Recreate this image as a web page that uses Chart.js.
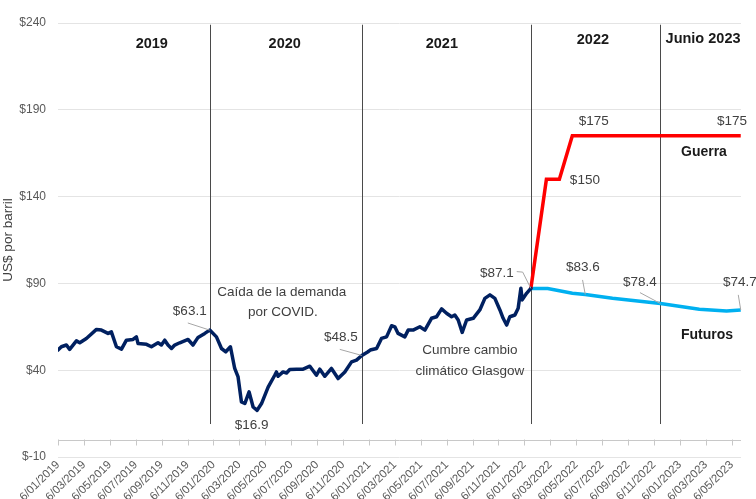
<!DOCTYPE html>
<html>
<head>
<meta charset="utf-8">
<script src="https://cdn.jsdelivr.net/npm/chart.js@4.4.0/dist/chart.umd.min.js"></script>
<style>
  html, body { margin: 0; padding: 0; background: #ffffff; }
  #wrap { width: 756px; height: 499px; position: relative; }
</style>
</head>
<body>
<div id="wrap"><canvas id="oilChart"></canvas></div>
<script>
// x values are months counted from 6/01/2019
const tickMonths = [0, 2, 4, 6, 8, 10, 12, 14, 16, 18, 20, 22, 24, 26, 28, 30, 32, 34, 36, 38, 40, 42, 44, 46, 48, 50, 52];
const tickLabels = [
    '6/01/2019', '6/03/2019', '6/05/2019', '6/07/2019', '6/09/2019', '6/11/2019',
    '6/01/2020', '6/03/2020', '6/05/2020', '6/07/2020', '6/09/2020', '6/11/2020',
    '6/01/2021', '6/03/2021', '6/05/2021', '6/07/2021', '6/09/2021', '6/11/2021',
    '6/01/2022', '6/03/2022', '6/05/2022', '6/07/2022', '6/09/2022', '6/11/2022',
    '6/01/2023', '6/03/2023', '6/05/2023'
];

// historical price (US$ per barrel)
const histMonths = [
    0, 0.26, 0.65, 0.9, 1.42, 1.68, 2.19, 2.97, 3.35, 3.86, 4.12, 4.51, 4.9, 5.28, 5.79, 6.05,
    6.18, 6.83, 7.21, 7.72, 7.98, 8.24, 8.49, 8.76, 9.01, 9.4, 10.04, 10.42, 10.81, 11.33, 11.71,
    12.23, 12.62, 12.95, 13.31, 13.64, 13.9, 14.16, 14.42, 14.75, 15.06, 15.37, 15.71, 16.22,
    16.73, 16.86, 16.99, 17.37, 17.64, 17.89, 18.41, 18.92, 19.44, 19.95, 20.21, 20.59, 21.11,
    21.62, 22.14, 22.66, 23.04, 23.45, 23.9, 24.1, 24.59, 24.97, 25.36, 25.75, 26.0, 26.25,
    26.77, 27.03, 27.41, 27.93, 28.32, 28.83, 29.22, 29.61, 29.99, 30.38, 30.63, 30.89, 31.2,
    31.54, 32.05, 32.56, 32.95, 33.34, 33.72, 34.11, 34.36, 34.63, 34.88, 35.27, 35.52, 35.73,
    35.83, 36.17, 36.5
];
const histPrices = [
    51.6, 53.5, 54.5, 52.0, 56.9, 55.8, 58.3, 63.5, 63.1, 61.2, 62.1, 53.5, 52.1, 57.3, 57.7, 59.2,
    55.4, 54.9, 53.5, 55.8, 54.5, 57.3, 54.5, 52.5, 54.5, 55.8, 57.7, 54.5, 58.9, 61.2, 63.1,
    59.2, 52.5, 50.6, 53.5, 41.0, 36.1, 21.7, 20.8, 27.5, 18.8, 16.9, 20.8, 30.3,
    37.1, 39.0, 36.5, 39.0, 38.4, 40.4, 40.6, 40.6, 42.3, 37.1, 40.6, 36.5, 41.0,
    35.2, 39.0, 44.8, 45.8, 48.5, 50.5, 51.6, 52.5, 58.3, 59.2, 65.6, 65.0, 61.2,
    59.2, 63.1, 63.1, 65.0, 63.1, 69.9, 70.8, 75.3, 72.8, 70.8, 71.8, 68.9, 61.8,
    68.9, 69.9, 74.7, 81.4, 83.4, 81.4, 74.7, 69.9, 66.0, 70.8, 71.8, 75.7, 87.2,
    80.5, 84.3, 87.1
];

// futures scenario
const futMonths = [36.5, 37.8, 38.7, 39.7, 40.7, 42.8, 46.5, 49.5, 51.6, 52.7];
const futPrices = [87.1, 87.0, 85.8, 84.3, 83.6, 81.4, 78.4, 75.1, 74.1, 74.7];

// war scenario
const warMonths = [36.5, 37.7, 38.7, 39.7, 52.7];
const warPrices = [87.1, 150, 150, 175, 175];

// period separators and headings
const separatorMonths = [11.71, 23.45, 36.5, 46.5];
const periodNames = ['2019', '2020', '2021', '2022', 'Junio 2023'];

const FONT = "'Liberation Sans', Arial, sans-serif";

function toPoints(xs, ys) {
    return xs.map((x, i) => ({ x: x, y: ys[i] }));
}

// annotation layout (data coordinates: month, price)
const periodPos = [[7.24, 227.9], [17.5, 227.9], [29.63, 227.9], [41.29, 230.2], [49.79, 230.8]];
const notes = [
    { text: '$63.1', at: [10.17, 73.7], leader: [[10.02, 67.2], [11.71, 63.1]] },
    { text: '$16.9', at: [14.95, 8.2] },
    { text: '$48.5', at: [21.83, 59.1], leader: [[21.75, 52.0], [23.45, 48.5]] },
    { text: '$87.1', at: [33.88, 96.1], leader: [[35.41, 96.8], [35.87, 96.5], [36.5, 87.1]] },
    { text: '$175', at: [41.36, 183.4] },
    { text: '$150', at: [40.67, 149.2] },
    { text: '$175', at: [52.02, 183.4] },
    { text: '$83.6', at: [40.52, 99.5], leader: [[40.49, 92.0], [40.7, 83.6]] },
    { text: '$78.4', at: [44.92, 90.9], leader: [[44.92, 84.7], [46.5, 78.4]] },
    { text: '$74.7', at: [52.64, 90.9], leader: [[52.51, 83.4], [52.7, 74.7]] },
    { text: 'Caída de la demanda', at: [17.27, 85.1] },
    { text: 'por COVID.', at: [17.35, 73.5] },
    { text: 'Cumbre cambio', at: [31.79, 51.6] },
    { text: 'climático Glasgow', at: [31.79, 39.4] },
    { text: 'Guerra', at: [49.86, 165.4], bold: true },
    { text: 'Futuros', at: [50.09, 60.2], bold: true }
];

const backgroundPlugin = {
    id: 'background',
    beforeDatasetsDraw(chart) {
        const ctx = chart.ctx;
        const xs = chart.scales.x;
        const ys = chart.scales.y;
        ctx.save();
        // horizontal axis crosses at 0
        const y0 = Math.round(ys.getPixelForValue(0)) + 0.5;
        ctx.strokeStyle = '#c8c8c8';
        ctx.lineWidth = 1;
        ctx.beginPath();
        ctx.moveTo(xs.left, y0);
        ctx.lineTo(xs.right, y0);
        tickMonths.forEach(m => {
            const x = Math.round(xs.getPixelForValue(m)) + 0.5;
            ctx.moveTo(x, y0 - 1);
            ctx.lineTo(x, y0 + 5);
        });
        ctx.stroke();

        // year separators
        ctx.strokeStyle = '#4a4a4a';
        ctx.beginPath();
        separatorMonths.forEach(m => {
            const x = Math.round(xs.getPixelForValue(m)) + 0.5;
            ctx.moveTo(x, ys.getPixelForValue(239));
            ctx.lineTo(x, ys.getPixelForValue(9));
        });
        ctx.stroke();
        ctx.restore();
    },
    afterDatasetsDraw(chart) {
        const ctx = chart.ctx;
        const xs = chart.scales.x;
        const ys = chart.scales.y;
        const P = (p) => [xs.getPixelForValue(p[0]), ys.getPixelForValue(p[1])];
        ctx.save();
        ctx.textAlign = 'center';
        ctx.textBaseline = 'middle';

        // period headings
        ctx.fillStyle = '#1a1a1a';
        ctx.font = 'bold 14.5px ' + FONT;
        periodNames.forEach((name, i) => {
            const [x, y] = P(periodPos[i]);
            ctx.fillText(name, x, y);
        });

        // leader lines
        ctx.strokeStyle = '#a6a6a6';
        ctx.lineWidth = 1;
        notes.forEach(n => {
            if (!n.leader) return;
            ctx.beginPath();
            n.leader.forEach((p, i) => {
                const [x, y] = P(p);
                if (i === 0) ctx.moveTo(x, y); else ctx.lineTo(x, y);
            });
            ctx.stroke();
        });

        // labels
        notes.forEach(n => {
            const [x, y] = P(n.at);
            ctx.fillStyle = n.bold ? '#1a1a1a' : '#404040';
            ctx.font = (n.bold ? 'bold 14px ' : '13.5px ') + FONT;
            ctx.fillText(n.text, x, y);
        });
        ctx.restore();
    }
};

const canvas = document.getElementById('oilChart');
const chart = new Chart(canvas.getContext('2d'), {
    type: 'line',
    data: {
        datasets: [
            {
                label: 'Histórico',
                data: toPoints(histMonths, histPrices),
                borderColor: '#002060',
                borderWidth: 3.5,
                borderJoinStyle: 'round',
                borderCapStyle: 'round',
                pointRadius: 0,
                tension: 0
            },
            {
                label: 'Guerra',
                data: toPoints(warMonths, warPrices),
                borderColor: '#ff0000',
                borderWidth: 3.5,
                pointRadius: 0,
                tension: 0
            },
            {
                label: 'Futuros',
                data: toPoints(futMonths, futPrices),
                borderColor: '#00b0f0',
                borderWidth: 3.5,
                pointRadius: 0,
                tension: 0
            }
        ]
    },
    options: {
        responsive: true,
        maintainAspectRatio: false,
        animation: false,
        layout: { padding: { top: 23, right: 15, left: 0, bottom: 0 } },
        plugins: {
            legend: { display: false },
            tooltip: { enabled: false }
        },
        scales: {
            x: {
                type: 'linear',
                min: 0,
                max: 52.72,
                grid: { display: false, drawTicks: false },
                border: { display: false },
                afterBuildTicks(scale) {
                    scale.ticks = tickMonths.map(v => ({ value: v }));
                },
                afterFit(scale) {
                    scale.height = 42;
                },
                ticks: {
                    autoSkip: false,
                    minRotation: 45,
                    maxRotation: 45,
                    padding: 1,
                    color: '#595959',
                    font: { family: FONT, size: 11.5 },
                    callback: function(value) {
                        const i = tickMonths.indexOf(value);
                        return i >= 0 ? tickLabels[i] : '';
                    }
                }
            },
            y: {
                min: -10,
                max: 240,
                grid: { color: '#e4e4e4', drawTicks: false },
                border: { display: false },
                afterFit(scale) {
                    scale.width = 58;
                },
                ticks: {
                    stepSize: 50,
                    padding: 12,
                    color: '#595959',
                    font: { family: FONT, size: 12 },
                    callback: v => '$' + v
                },
                title: {
                    display: true,
                    text: 'US$ por barril',
                    color: '#404040',
                    font: { family: FONT, size: 13.5 },
                    padding: { top: 0, bottom: 0 }
                }
            }
        }
    },
    plugins: [backgroundPlugin]
});
</script>
</body>
</html>
